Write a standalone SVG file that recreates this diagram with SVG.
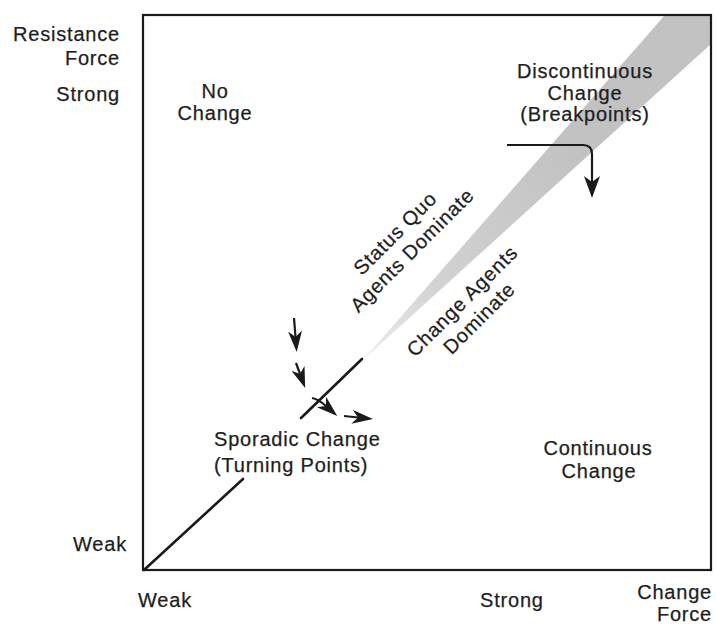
<svg xmlns="http://www.w3.org/2000/svg" width="716" height="624" viewBox="0 0 716 624">
<style>
  text { font-family: "Liberation Sans", Arial, sans-serif; font-size: 20px; fill: #1e1e1e; stroke: #1e1e1e; stroke-width: 0.25; letter-spacing: 0.8px; }
  .mid { text-anchor: middle; }
  .end { text-anchor: end; }
  .frame { fill: none; stroke: #1a1a1a; stroke-width: 2.2; }
  .diag { fill: none; stroke: #1a1a1a; stroke-width: 2.6; stroke-linecap: round; }
  .arr { fill: none; stroke: #1a1a1a; stroke-width: 2.2; }
</style>
<defs>
  <linearGradient id="wedgeGrad" gradientUnits="userSpaceOnUse" x1="364" y1="360" x2="560" y2="140">
    <stop offset="0" stop-color="#eeeeee"/>
    <stop offset="0.35" stop-color="#d2d2d2"/>
    <stop offset="1" stop-color="#c2c2c2"/>
  </linearGradient>
  <marker id="ah" markerUnits="userSpaceOnUse" markerWidth="24" markerHeight="14" refX="6" refY="7" orient="auto">
    <path d="M0,0 L21,7 L0,14 L6,7 Z" fill="#1a1a1a"/>
  </marker>
  <marker id="ah2" markerUnits="userSpaceOnUse" markerWidth="24" markerHeight="16" refX="6" refY="8" orient="auto">
    <path d="M0,0 L22,8 L0,16 L6,8 Z" fill="#1a1a1a"/>
  </marker>
</defs>

<rect width="716" height="624" fill="#ffffff"/>

<g id="wedge">
  <polygon points="363,360 665,15 711,15 711,44" fill="url(#wedgeGrad)"/>
</g>

<g id="frame">
  <rect class="frame" x="143" y="15" width="568" height="555"/>
</g>

<g id="connectors">
  <line class="diag" x1="144" y1="570" x2="243" y2="479"/>
  <line class="diag" x1="301" y1="418" x2="362" y2="359"/>
  <line class="arr" x1="294" y1="318" x2="295.5" y2="337" marker-end="url(#ah)"/>
  <line class="arr" x1="296" y1="363" x2="300" y2="374" marker-end="url(#ah)"/>
  <path class="arr" d="M312,398 Q318,399 326,406" marker-end="url(#ah)"/>
  <line class="arr" x1="344" y1="416" x2="358" y2="417.5" marker-end="url(#ah)"/>
  <path class="arr" d="M507,145 H583 Q592,145 592,154 V182" marker-end="url(#ah2)"/>
</g>

<g id="axis-labels">
  <text class="end" x="120" y="41">Resistance</text>
  <text class="end" x="120" y="65">Force</text>
  <text class="end" x="120" y="101">Strong</text>
  <text x="73" y="551">Weak</text>
  <text x="138" y="607">Weak</text>
  <text x="480" y="607">Strong</text>
  <text class="end" x="712" y="599">Change</text>
  <text class="end" x="712" y="621">Force</text>
</g>

<g id="no-change">
  <text class="mid" x="215" y="98">No</text>
  <text class="mid" x="215" y="120">Change</text>
</g>

<g id="discontinuous-change">
  <text class="mid" x="585" y="78">Discontinuous</text>
  <text class="mid" x="585" y="100">Change</text>
  <text class="mid" x="585" y="121">(Breakpoints)</text>
</g>

<g id="status-quo">
  <g transform="translate(400,238) rotate(-45)">
    <text class="mid" x="0" y="0">Status Quo</text>
    <text class="mid" x="0" y="24">Agents Dominate</text>
  </g>
</g>

<g id="change-agents">
  <g transform="translate(467,306) rotate(-45)">
    <text class="mid" x="0" y="0">Change Agents</text>
    <text class="mid" x="0" y="24">Dominate</text>
  </g>
</g>

<g id="sporadic-change">
  <text x="214" y="446">Sporadic Change</text>
  <text x="214" y="472">(Turning Points)</text>
</g>

<g id="continuous-change">
  <text class="mid" x="598" y="455">Continuous</text>
  <text class="mid" x="599" y="478">Change</text>
</g>
</svg>
